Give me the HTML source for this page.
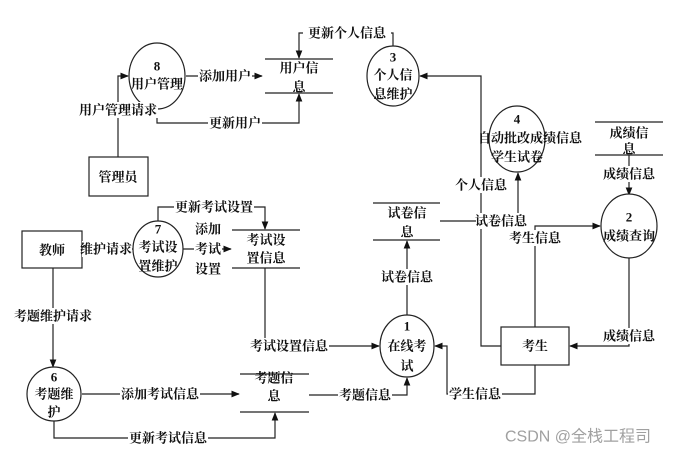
<!DOCTYPE html>
<html><head><meta charset="utf-8"><style>
html,body{margin:0;padding:0;background:#fff}
svg{display:block}
text{font-family:"Liberation Serif","Noto Serif CJK SC",serif;font-size:13px;font-weight:bold;fill:#111;text-anchor:middle;dominant-baseline:central}
.l{stroke:#222;stroke-width:1.2;fill:none}
.w{fill:#fff}
</style></head><body>
<svg width="678" height="457" viewBox="0 0 678 457" xmlns="http://www.w3.org/2000/svg">
<defs><marker id="a" viewBox="0 0 10 10" refX="9" refY="5" markerWidth="7" markerHeight="7" orient="auto-start-reverse"><path d="M0,1 L10,5 L0,9 z" fill="#111"/></marker></defs>

<!-- connectors -->
<path class="l" d="M118,157 V76 H128" marker-end="url(#a)"/>
<path class="l" d="M186,76 H262" marker-end="url(#a)"/>
<path class="l" d="M157,109 V123 H299 V94" marker-end="url(#a)"/>
<path class="l" d="M393,46 V33 H299 V58" marker-end="url(#a)"/>
<path class="l" d="M501,346 H481 V76 H420" marker-end="url(#a)"/>
<path class="l" d="M518,221 V173" marker-end="url(#a)"/>
<path class="l" d="M440,221 H476"/>
<path class="l" d="M535,327 V226 H600" marker-end="url(#a)"/>
<path class="l" d="M629,155 V195" marker-end="url(#a)"/>
<path class="l" d="M629,258 V346 H570" marker-end="url(#a)"/>
<path class="l" d="M535,365 V394 H447 V346 H435" marker-end="url(#a)"/>
<path class="l" d="M407,315 V241" marker-end="url(#a)"/>
<path class="l" d="M265,268 V346 H379" marker-end="url(#a)"/>
<path class="l" d="M309,395 H407 V378" marker-end="url(#a)"/>
<path class="l" d="M53,268 V367" marker-end="url(#a)"/>
<path class="l" d="M82,394 H239" marker-end="url(#a)"/>
<path class="l" d="M54,421 V438 H275 V413" marker-end="url(#a)"/>
<path class="l" d="M82,249 H133"/>
<path class="l" d="M183,249 H231" marker-end="url(#a)"/>
<path class="l" d="M158,221 V207 H265 V229" marker-end="url(#a)"/>

<!-- stores -->
<path class="l" d="M265,59 H333 M265,93 H333"/>
<path class="l" d="M373,203 H440 M373,240 H440"/>
<path class="l" d="M232,230 H300 M232,268 H300"/>
<path class="l" d="M240,374 H309 M240,412 H309"/>
<path class="l" d="M595,122 H663 M595,155 H663"/>

<!-- circles -->
<ellipse class="l w" cx="157" cy="76" rx="28" ry="33"/>
<ellipse class="l w" cx="393" cy="76" rx="26" ry="30"/>
<ellipse class="l w" cx="517" cy="139" rx="28" ry="33"/>
<ellipse class="l w" cx="629" cy="226" rx="28" ry="32"/>
<ellipse class="l w" cx="407" cy="346" rx="27" ry="31"/>
<ellipse class="l w" cx="54" cy="394" rx="27" ry="27"/>
<ellipse class="l w" cx="158" cy="249" rx="25" ry="28"/>

<!-- boxes -->
<rect class="l w" x="89" y="157" width="59" height="39"/>
<rect class="l w" x="501" y="327" width="68" height="38"/>
<rect class="l w" x="22" y="231" width="60" height="37"/>

<!-- labels with white bg -->
<g>
<rect class="w" x="80" y="102" width="78" height="16"/><text x="118" y="110">用户管理请求</text>
<rect class="w" x="198" y="68" width="54" height="16"/><text x="225" y="76">添加用户</text>
<rect class="w" x="208" y="115" width="54" height="16"/><text x="235" y="123">更新用户</text>
<rect class="w" x="303" y="25" width="88" height="16"/><text x="347" y="33">更新个人信息</text>
<rect class="w" x="455" y="177" width="54" height="16"/><text x="481" y="185">个人信息</text>
<rect class="w" x="476" y="213" width="52" height="16"/><text x="501" y="221">试卷信息</text>
<rect class="w" x="508" y="230" width="54" height="16"/><text x="535" y="238">考生信息</text>
<rect class="w" x="602" y="166" width="54" height="16"/><text x="629" y="174">成绩信息</text>
<rect class="w" x="602" y="328" width="54" height="16"/><text x="629" y="336">成绩信息</text>
<rect class="w" x="448" y="386" width="54" height="16"/><text x="475" y="394">学生信息</text>
<rect class="w" x="380" y="269" width="54" height="16"/><text x="407" y="277">试卷信息</text>
<rect class="w" x="249" y="338" width="80" height="16"/><text x="289" y="346">考试设置信息</text>
<rect class="w" x="338" y="387" width="54" height="16"/><text x="365" y="395">考题信息</text>
<rect class="w" x="12" y="308" width="82" height="16"/><text x="53" y="316">考题维护请求</text>
<rect class="w" x="120" y="386" width="80" height="16"/><text x="160" y="394">添加考试信息</text>
<rect class="w" x="128" y="430" width="80" height="16"/><text x="168" y="438">更新考试信息</text>
<rect class="w" x="82" y="241" width="50" height="16"/><text x="106" y="249">维护请求</text>
<rect class="w" x="174" y="199" width="80" height="16"/><text x="214" y="207">更新考试设置</text>
<rect class="w" x="194" y="220" width="28" height="58"/>
<text x="208" y="229">添加</text><text x="208" y="249">考试</text><text x="208" y="269">设置</text>
</g>

<!-- node texts -->
<text x="157" y="66">8</text><text x="157" y="84">用户管理</text>
<text x="299" y="68">用户信</text><text x="299" y="87">息</text>
<text x="393" y="57">3</text><text x="393" y="75">个人信</text><text x="393" y="94">息维护</text>
<text x="517" y="119">4</text><text x="530" y="138">自动批改成绩信息</text><text x="517" y="157">学生试卷</text>
<text x="629" y="133">成绩信</text><text x="629" y="149">息</text>
<text x="629" y="217">2</text><text x="629" y="236">成绩查询</text>
<text x="407" y="213">试卷信</text><text x="407" y="232">息</text>
<text x="407" y="326">1</text><text x="407" y="346">在线考</text><text x="407" y="366">试</text>
<text x="535" y="346">考生</text>
<text x="118" y="177">管理员</text>
<text x="52" y="250">教师</text>
<text x="158" y="229">7</text><text x="158" y="247">考试设</text><text x="158" y="266">置维护</text>
<text x="266" y="240">考试设</text><text x="266" y="258">置信息</text>
<text x="274" y="378">考题信</text><text x="274" y="396">息</text>
<text x="54" y="377">6</text><text x="54" y="394">考题维</text><text x="54" y="412">护</text>

<text x="578" y="437" style="font-family:'Liberation Sans','Noto Sans CJK SC',sans-serif;font-size:16px;font-weight:normal;fill:#a0a0a0">CSDN @全栈工程司</text>
</svg>
</body></html>
